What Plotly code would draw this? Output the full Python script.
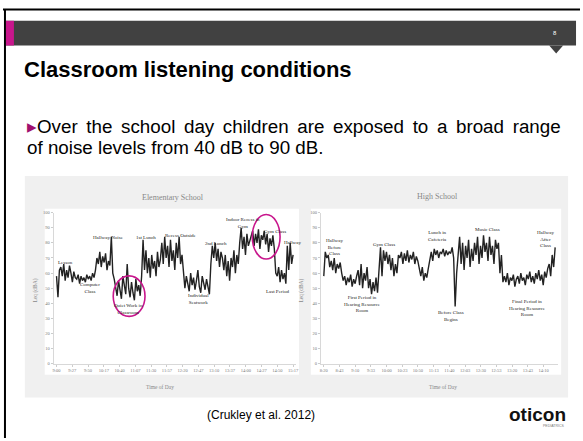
import numpy as np
import plotly.graph_objects as go

W, H = 583, 441

# ---------------- data ----------------
elem_ticks = ["9:00", "9:27", "9:50", "10:17", "10:40", "11:07", "11:30", "11:57",
              "12:20", "12:47", "13:10", "13:37", "14:00", "14:27", "14:50", "15:17"]
high_ticks = ["8:20", "8:43", "9:10", "9:33", "10:00", "10:23", "10:50", "11:13",
              "11:40", "12:03", "12:30", "12:53", "13:20", "13:43", "14:10"]

elem_leq = [58, 44, 62,
            64, 58, 66, 55, 62, 57, 65, 60, 54, 61, 57,
            56, 59, 53, 58, 55, 57, 54, 59, 56, 58, 55, 60, 57,
            62, 70, 66, 74, 64, 71, 67, 73, 62, 68, 65,
            84, 60,
            56, 50, 45, 55, 48, 43, 58, 52, 46, 66, 50, 44, 54, 47, 42, 56, 48, 52, 45, 58,
            82, 62,
            75, 60, 70, 57, 72, 63, 68, 58, 74, 64, 69,
            80, 66, 84, 70, 78, 64, 82, 68, 75, 62, 80, 70, 84, 66, 72, 62,
            50, 58, 54, 48, 60, 52, 57, 49, 55, 62, 51, 47, 58, 53, 49, 56, 50, 46,
            66, 78, 70, 80, 68, 76, 64, 74, 70,
            62, 72, 58, 68, 55, 70, 64, 75, 60, 72, 66,
            80, 90, 76, 84, 72, 86, 78, 82,
            84, 88, 78, 86, 80, 89, 76, 85, 82, 88, 79, 86, 74, 83, 78, 85, 76,
            60,
            58, 64, 54, 62, 56, 60, 53,
            78, 62, 80, 66, 72]

high_leq = [58, 74, 70,
            72, 64, 68, 62, 70, 60, 66, 63, 67,
            60, 55, 58, 52, 57, 54, 59, 51, 56, 53, 58,
            62, 52, 66, 50, 60, 55, 64,
            50, 56, 46, 54, 48, 57, 47,
            60, 77, 58, 75, 68,
            74, 66, 72, 62, 70, 58, 66, 60, 72,
            70, 74, 66, 73, 68, 75, 67, 72, 69, 74, 66, 71, 68,
            62, 58, 64, 55, 60, 57, 63,
            70, 74, 68, 76, 72, 75, 70, 74, 73, 76, 71, 75, 72, 74, 73, 77, 70,
            38, 60,
            76, 84, 66, 80, 62, 78, 70, 82, 64, 76, 68, 80, 72, 84, 66, 78, 70, 85, 74, 80,
            68, 84, 72, 78, 66, 82, 76, 80,
            60, 72, 54,
            58, 54, 60, 52, 57, 55, 59, 51, 56, 58, 53, 60, 55, 57, 52, 59, 56, 61, 54, 58,
            53, 60, 56, 62, 55, 59, 52, 61, 57, 63,
            66, 58, 72, 64, 77]

y_ticks = [0, 10, 20, 30, 40, 50, 60, 70, 80, 90, 100]

elem_notes = [("Lesson", 65, 263), ("Computer<br>Class", 90, 289), ("Hallway Noise", 108, 238),
              ("1st Lunch", 146, 238), ("Recess Outside", 181, 236),
              ("Quiet Work in<br>Classroom", 128, 311), ("Individual<br>Seatwork", 199, 300),
              ("2nd Lunch", 216, 244), ("Indoor Recess in<br>Gym", 244, 224),
              ("Gym Class", 276, 232), ("Hallway", 294, 243), ("Last Period", 278, 293)]
high_notes = [("Hallway<br>Before<br>Class", 336, 248), ("First Period in<br>Hearing Resource<br>Room", 364, 305),
              ("Gym Class", 386, 245), ("Lunch in<br>Cafeteria", 440, 237),
              ("Before Class<br>Begins", 453, 318), ("Music Class", 490, 230),
              ("Hallway<br>After<br>Class", 548, 240),
              ("Final Period in<br>Hearing Resource<br>Room", 530, 310)]


def px(x):
    return x / W


def py(y):
    return 1 - y / H


SERIF = "Liberation Serif"
SANS = "Liberation Sans"
MAG = "#c8168c"

fig = go.Figure()
fig.add_trace(go.Scatter(x=list(range(len(elem_leq))), y=elem_leq, mode="lines",
                         line=dict(color="#222", width=1.4), xaxis="x", yaxis="y",
                         showlegend=False, hoverinfo="skip"))
fig.add_trace(go.Scatter(x=list(range(len(high_leq))), y=high_leq, mode="lines",
                         line=dict(color="#222", width=1.4), xaxis="x2", yaxis="y2",
                         showlegend=False, hoverinfo="skip"))

ne, nh = len(elem_leq), len(high_leq)
axfont = dict(family=SERIF, size=4.5, color="#777")

common_x = dict(showgrid=False, zeroline=False, showline=True, linecolor="#d8d8d8",
                linewidth=1, ticks="outside", ticklen=2, tickcolor="#ccc",
                tickfont=axfont, tickangle=0, fixedrange=True)
common_y = dict(range=[0, 100], tickvals=y_ticks, showgrid=False, zeroline=False,
                showline=True, linecolor="#d8d8d8", linewidth=1, ticks="outside",
                ticklen=2, tickcolor="#ccc", tickfont=axfont, fixedrange=True)

fig.update_layout(
    width=W, height=H, margin=dict(l=0, r=0, t=0, b=0),
    paper_bgcolor="white", plot_bgcolor="rgba(0,0,0,0)",
    xaxis=dict(domain=[px(53), px(297)], range=[-2, ne + 1],
               tickvals=list(np.linspace(0, ne - 1, len(elem_ticks))),
               ticktext=elem_ticks, anchor="y", **common_x),
    yaxis=dict(domain=[py(366), py(213)], anchor="x", **common_y),
    xaxis2=dict(domain=[px(322), px(561)], range=[-2, nh + 1],
                tickvals=list(np.linspace(0, (nh - 1) * 0.95, len(high_ticks))),
                ticktext=high_ticks, anchor="y2", **common_x),
    yaxis2=dict(domain=[py(366), py(213)], anchor="x2", **common_y),
)

shapes = []
# slide border lines
shapes.append(dict(type="line", xref="paper", yref="paper", x0=px(2), x1=px(583), y0=py(7.5), y1=py(7.5),
                   line=dict(color="black", width=2)))
shapes.append(dict(type="line", xref="paper", yref="paper", x0=px(4), x1=px(4), y0=py(7), y1=py(441),
                   line=dict(color="black", width=2)))
# header band
shapes.append(dict(type="rect", xref="paper", yref="paper", x0=px(5), x1=px(579), y0=py(44), y1=py(19),
                   fillcolor="#414141", line=dict(width=0), layer="below"))
shapes.append(dict(type="rect", xref="paper", yref="paper", x0=px(5), x1=px(13), y0=py(44), y1=py(19),
                   fillcolor=MAG, line=dict(width=0)))
shapes.append(dict(type="path", xref="paper", yref="paper",
                   path=f"M {px(552)} {py(44)} L {px(566)} {py(44)} L {px(559)} {py(52)} Z",
                   fillcolor="#414141", line=dict(width=0)))
# gray figure box
shapes.append(dict(type="rect", xref="paper", yref="paper", x0=px(24), x1=px(571), y0=py(400), y1=py(176),
                   fillcolor="#f0f0f0", line=dict(width=0), layer="below"))
shapes.append(dict(type="rect", xref="paper", yref="paper", x0=px(44), x1=px(300), y0=py(377), y1=py(209),
                   fillcolor="white", line=dict(width=0), layer="below"))
shapes.append(dict(type="rect", xref="paper", yref="paper", x0=px(312), x1=px(564), y0=py(377), y1=py(209),
                   fillcolor="white", line=dict(width=0), layer="below"))
# magenta circles
shapes.append(dict(type="circle", xref="paper", yref="paper", x0=px(113), x1=px(145), y0=py(318), y1=py(277),
                   line=dict(color=MAG, width=1.6)))
shapes.append(dict(type="circle", xref="paper", yref="paper", x0=px(253), x1=px(281), y0=py(260), y1=py(215),
                   line=dict(color=MAG, width=1.6)))
fig.update_layout(shapes=shapes)

ann = []


def add(text, x, y, size, color="black", family=SANS, xanchor="center", **kw):
    ann.append(dict(text=text, x=px(x), y=py(y), xref="paper", yref="paper", showarrow=False,
                    font=dict(size=size, color=color, family=family), xanchor=xanchor,
                    yanchor="middle", **kw))


add("<b>Classroom listening conditions</b>", 21, 68, 22, xanchor="left")
add("<span style='color:#a0106e'>▸</span><span style='word-spacing:3.4px'>Over the school day children are exposed to a broad range</span>",
    24, 126, 18.8, xanchor="left")
add("of noise levels from 40 dB to 90 dB.", 24, 147, 18.8, xanchor="left")
add("8", 558, 31, 6, color="white")
add("(Crukley et al. 2012)", 262, 418, 12)
add("<b>oticon</b>", 540, 417, 19, color="#111")
add("PEDIATRICS", 556, 429, 3.5, color="#777")

add("Elementary School", 173, 198, 8, color="#888", family=SERIF)
add("High School", 440, 197, 8, color="#888", family=SERIF)
add("Time of Day", 160, 389, 5.5, color="#888", family=SERIF)
add("Time of Day", 445, 389, 5.5, color="#888", family=SERIF)
add("Leq (dBA)", 35, 292, 5.5, color="#888", family=SERIF, textangle=-90)
add("Leq (dBA)", 303, 292, 5.5, color="#888", family=SERIF, textangle=-90)

for t, x, y in elem_notes + high_notes:
    ann.append(dict(text=t, x=px(x), y=py(y), xref="paper", yref="paper", showarrow=False,
                    font=dict(size=5, color="#222", family=SERIF), xanchor="center",
                    yanchor="middle", align="center"))

fig.update_layout(annotations=ann)

fig.write_html("out.html", config={"displayModeBar": False, "staticPlot": True},
               post_script="document.body.style.margin='0';document.body.style.overflow='hidden';")
